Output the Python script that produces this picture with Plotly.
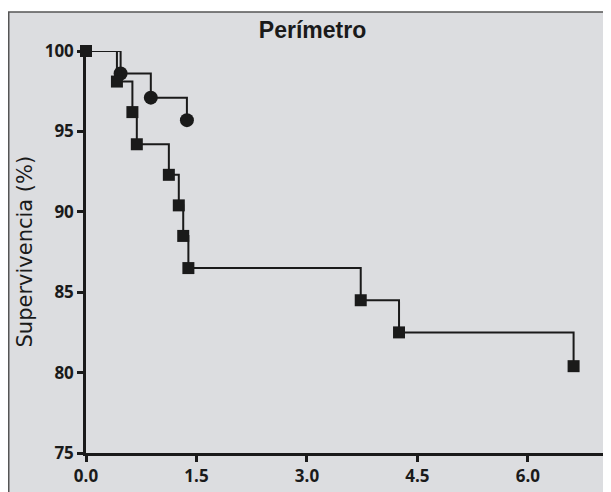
import plotly.graph_objects as go

# Data
sq_time = [0.0, 0.42, 0.63, 0.69, 1.125, 1.26, 1.32, 1.39, 3.73, 4.25, 6.62]
sq_surv = [100.0, 98.1, 96.2, 94.2, 92.3, 90.4, 88.5, 86.5, 84.5, 82.5, 80.4]

ci_time = [0.0, 0.47, 0.88, 1.37]
ci_surv = [100.0, 98.6, 97.1, 95.7]

x_ticks = [0.0, 1.5, 3.0, 4.5, 6.0]
x_ticklabels = ["0.0", "1.5", "3.0", "4.5", "6.0"]
y_ticks = [75, 80, 85, 90, 95, 100]

# page body has an 8px margin; figure is sized to fill the rest of the window
W, H = 603, 484
L, R, T, B = 78, 5, 43, 39
pw, ph = W - L - R, H - T - B

def px_to_paper_x(px):
    return (px - L) / pw

def px_to_paper_y(py):
    return (H - B - py) / ph

ink = "#1a1a1a"
fig = go.Figure()
fig.add_trace(go.Scatter(
    x=ci_time[1:], y=ci_surv[1:], mode="markers",
    marker=dict(symbol="circle", size=14, color=ink, line=dict(width=0)),
    showlegend=False, cliponaxis=False, hoverinfo="skip"))
fig.add_trace(go.Scatter(
    x=ci_time, y=ci_surv, mode="lines", line_shape="hv",
    line=dict(color=ink, width=2), showlegend=False, cliponaxis=False))
fig.add_trace(go.Scatter(
    x=sq_time, y=sq_surv, mode="lines+markers", line_shape="hv",
    line=dict(color=ink, width=2),
    marker=dict(symbol="square", size=12, color=ink, line=dict(width=0)),
    showlegend=False, cliponaxis=False))

fig.add_shape(type="rect", xref="paper", yref="paper",
              x0=px_to_paper_x(0.75), x1=1.2, y0=px_to_paper_y(4), y1=-0.3,
              fillcolor="#dcdde0", line=dict(color="#555555", width=1.5),
              layer="below")

fig.add_annotation(text="Supervivencia (%)", textangle=-90,
                   xref="paper", yref="paper",
                   x=px_to_paper_x(16), y=px_to_paper_y(243.5),
                   xanchor="center", yanchor="middle", showarrow=False,
                   font=dict(size=21, family="DejaVu Sans, Open Sans", color=ink))

fig.update_layout(
    width=W, height=H,
    margin=dict(l=L, r=R, t=T, b=B),
    paper_bgcolor="white",
    plot_bgcolor="rgba(0,0,0,0)",
    title=dict(text="<b>Perímetro</b>", x=px_to_paper_x(304.5), xref="paper", xanchor="center",
               y=1 - 22 / H, yanchor="middle",
               font=dict(family="Liberation Sans, Arial", size=23, color=ink)),
    font=dict(family="Liberation Sans, Arial", color=ink),
    xaxis=dict(range=[0, 7.06], tickvals=x_ticks, ticktext=[f"<b>{t}</b>" for t in x_ticklabels],
               showgrid=False, zeroline=False, showline=True, linecolor=ink, linewidth=2.5,
               ticks="outside", ticklen=6, tickwidth=2.5, tickcolor=ink,
               tickfont=dict(size=17, family="Open Sans, Liberation Sans", color=ink)),
    yaxis=dict(range=[75, 100], tickvals=y_ticks, ticktext=[f"<b>{t}</b>" for t in y_ticks],
               showgrid=False, zeroline=False, showline=True, linecolor=ink, linewidth=2.5,
               ticks="outside", ticklen=6, tickwidth=2.5, tickcolor=ink,
               tickfont=dict(size=17, family="Open Sans, Liberation Sans", color=ink)),
)

fig.write_html("out.html")
